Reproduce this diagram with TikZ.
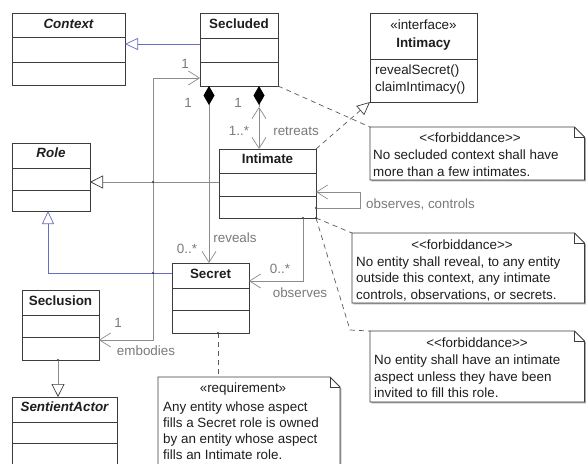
\documentclass[tikz,border=0pt]{standalone}
\usepackage{fontspec}
\setmainfont{Liberation Sans}
\usetikzlibrary{arrows.meta,shadows,calc}
\definecolor{boxc}{HTML}{3C3C3C}
\definecolor{linec}{HTML}{8C8C8C}
\definecolor{bluec}{HTML}{6A6AC8}
\definecolor{labc}{HTML}{7A7A7A}
\definecolor{dashc}{HTML}{5A5A5A}
\definecolor{shadc}{HTML}{A8A8A8}
\definecolor{txtc}{HTML}{1E1E1E}
\newcommand\umlcls[9]{%
  \node[clsbox, anchor=north west, minimum width={(#4-#2)*1pt}, minimum height={(#5-#3)*1pt}] (#1) at (#2,#3) {};
  \draw[clsline] (#1.west |- 0,#6) -- (#1.east |- 0,#6);
  \draw[clsline] (#1.west |- 0,#7) -- (#1.east |- 0,#7);
  \node[clstitle, anchor=base] (#1t) at (#1.north |- 0,#9) {#8};
}
\newcommand\umlnote[5]{%
  \node[inner sep=0pt, outer sep=0pt, anchor=north west, minimum width={(#4-#2)*1pt}, minimum height={(#5-#3)*1pt}] (#1) at (#2,#3) {};
  \fill[shadc] ([shift={(1.3pt,-1.3pt)}]#1.north west) -- ([shift={(-8.7pt,-1.3pt)}]#1.north east) -- ([shift={(1.3pt,-11.3pt)}]#1.north east) -- ([shift={(1.3pt,-1.3pt)}]#1.south east) -- ([shift={(1.3pt,-1.3pt)}]#1.south west) -- cycle;
  \draw[notebox] (#1.north west) -- ([xshift=-10pt]#1.north east) -- ([yshift=-10pt]#1.north east) -- (#1.south east) -- (#1.south west) -- cycle;
  \draw[clsline] ([xshift=-10pt]#1.north east) |- ([yshift=-10pt]#1.north east);
}
\begin{document}
\begin{tikzpicture}[x=1pt,y=-1pt,
  font=\fontsize{13.4}{16.5}\selectfont,
  clsbox/.style={draw=boxc, line width=0.9pt, fill=white, inner sep=0pt, outer sep=0pt,
    drop shadow={shadow xshift=1.3pt, shadow yshift=-1.3pt, fill=shadc, opacity=1}},
  clsline/.style={draw=boxc, line width=0.9pt},
  clstitle/.style={inner sep=0pt, font=\fontsize{13.4}{16.5}\selectfont\bfseries, text=txtc},
  notebox/.style={draw=boxc, line width=0.9pt, fill=white},
  notetxt/.style={inner sep=0pt, anchor=base west, text=txtc},
  noteste/.style={inner sep=0pt, anchor=base, text=txtc},
  lab/.style={inner sep=0pt, text=labc},
  assoc/.style={draw=linec, line width=0.7pt},
  barbboth/.style={assoc, {Straight Barb[length=11pt,width=14pt]}-{Straight Barb[length=11pt,width=14pt]}},
  barbend/.style={assoc, -{Straight Barb[length=11pt,width=14pt]}},
  compo/.style={assoc, {Diamond[length=19pt,width=11pt,color=black]}-},
  compobarb/.style={assoc, {Diamond[length=19pt,width=11pt,color=black]}-{Straight Barb[length=11pt,width=14pt]}},
  bluegen/.style={draw=bluec, line width=0.7pt, -{Triangle[open, length=13pt, width=12pt]}},
  graygen/.style={assoc, -{Triangle[open, length=13pt, width=13pt, color=boxc]}},
  dep/.style={draw=dashc, line width=0.7pt, dash pattern=on 5pt off 4pt},
  realz/.style={dep, -{Triangle[open, length=13pt, width=12pt, color=boxc]}},
  jdot/.style={circle, fill=boxc, inner sep=0pt, minimum size=2.4pt}
]
\useasboundingbox (0,0) rectangle (586,463);
\clip (0,0) rectangle (586,463);
\fill[white] (0,0) rectangle (586,463);

% classes
\umlcls{context}{12}{13}{125}{85}{37}{62}{\itshape Context}{28.5}
\umlcls{secluded}{200}{13}{278}{86}{38}{62}{Secluded}{28.5}
\umlcls{intimacy}{370}{13}{477}{102}{59}{59}{Intimacy}{47.5}
\umlcls{role}{12}{143}{90}{211}{168}{190}{\itshape Role}{157.5}
\umlcls{intimate}{219}{149}{316}{218}{173}{196}{Intimate}{163.5}
\umlcls{secret}{172}{263}{249}{333}{288}{310}{Secret}{278}
\umlcls{seclusion}{22}{290}{99}{360}{315}{337}{Seclusion}{305}
\umlcls{sentient}{12}{397}{117}{480}{422}{443}{\itshape SentientActor}{411.5}

\node[noteste] (ifst) at (intimacy.north |- 0,29.5) {«interface»};
\node[notetxt] (m1) at (375,74.5) {revealSecret()};
\node[notetxt] (m2) at (375,91.5) {claimIntimacy()};

% notes
\umlnote{note1}{370}{127}{584.5}{180}
\node[noteste] (n1s) at (470,142.5) {<{}<forbiddance>{}>};
\node[notetxt] (n1a) at (373,159.5) {No secluded context shall have};
\node[notetxt] (n1b) at (373,176) {more than a few intimates.};

\umlnote{note2}{352}{233}{584.5}{303}
\node[noteste] (n2s) at (462,249.5) {<{}<forbiddance>{}>};
\node[notetxt] (n2a) at (356,266) {No entity shall reveal, to any entity};
\node[notetxt] (n2b) at (356,282.5) {outside this context, any intimate};
\node[notetxt] (n2c) at (356,299) {controls, observations, or secrets.};

\umlnote{note3}{370}{331}{584.5}{402}
\node[noteste] (n3s) at (477,347.5) {<{}<forbiddance>{}>};
\node[notetxt] (n3a) at (374,364.5) {No entity shall have an intimate};
\node[notetxt] (n3b) at (374,381) {aspect unless they have been};
\node[notetxt] (n3c) at (374,397) {invited to fill this role.};

\umlnote{noteq}{158}{377}{340}{480}
\node[noteste] (nqs) at (243,392) {«requirement»};
\node[notetxt] (nqa) at (163,411.5) {Any entity whose aspect};
\node[notetxt] (nqb) at (163,427.5) {fills a Secret role is owned};
\node[notetxt] (nqc) at (163,443.5) {by an entity whose aspect};
\node[notetxt] (nqd) at (163,459.5) {fills an Intimate role.};

% connectors
\draw[bluegen] (secluded.west |- 0,44) -- (context.east |- 0,44);
\draw[barbboth] (seclusion.east |- 0,340) -- (153,340) -- (153,78) -- (secluded.west |- 0,78);
\draw[compobarb] (secluded.south -| 209,0) -- (secret.north -| 209,0);
\coordinate (rtmid) at (259,107);
\draw[compo] (secluded.south -| 259,0) -- (rtmid);
\draw[barbboth] (rtmid) -- (intimate.north -| 259,0);
\draw[graygen] (intimate.west |- 0,182) -- (role.east |- 0,182);
\draw[bluegen] (secret.west |- 0,273) -| (role.south -| 48,0);
\draw[realz] (intimate.north east) -- (intimacy.south west);
\draw[barbend] (intimate.east |- 0,208) -- (360,208) -- (360,192) -- (intimate.east |- 0,192);
\draw[barbend] (intimate.south -| 303,0) |- (secret.east |- 0,281);
\draw[graygen] (seclusion.south -| 58,0) -- (sentient.north -| 58,0);
\draw[dep] (secluded.south east) -- (note1.north west);
\draw[dep] (intimate.south east) -- (note2.north west);
\draw[dep] (intimate.south east) -- (350,330) -- (note3.north west);
\draw[dep] (secret.south -| 218,0) -- (noteq.north -| 218,0);

% junction dots
\node[jdot] (j1) at (153,182) {};
\node[jdot] (j2) at (153,273) {};
\node[jdot] (j3) at (316,208) {};
\node[jdot] (j4) at (303,218) {};
\node[jdot] (j5) at (218,333) {};
\node[jdot] (j6) at (58,360) {};
\node[jdot] (j7) at (316,218) {};

% labels
\node[lab] (l1) at (185,64) {1};
\node[lab] (l2) at (188,103) {1};
\node[lab] (l3) at (238,103) {1};
\node[lab] (l4) at (239,131) {1..*};
\node[lab] (l5) at (296,131) {retreats};
\node[lab] (l6) at (235,238) {reveals};
\node[lab] (l7) at (187,249) {0..*};
\node[lab] (l8) at (280,269) {0..*};
\node[lab] (l9) at (300,293) {observes};
\node[lab, anchor=west] (l10) at (366,204) {observes, controls};
\node[lab] (l11) at (118,323) {1};
\node[lab] (l12) at (146,351) {embodies};
\end{tikzpicture}
\end{document}
